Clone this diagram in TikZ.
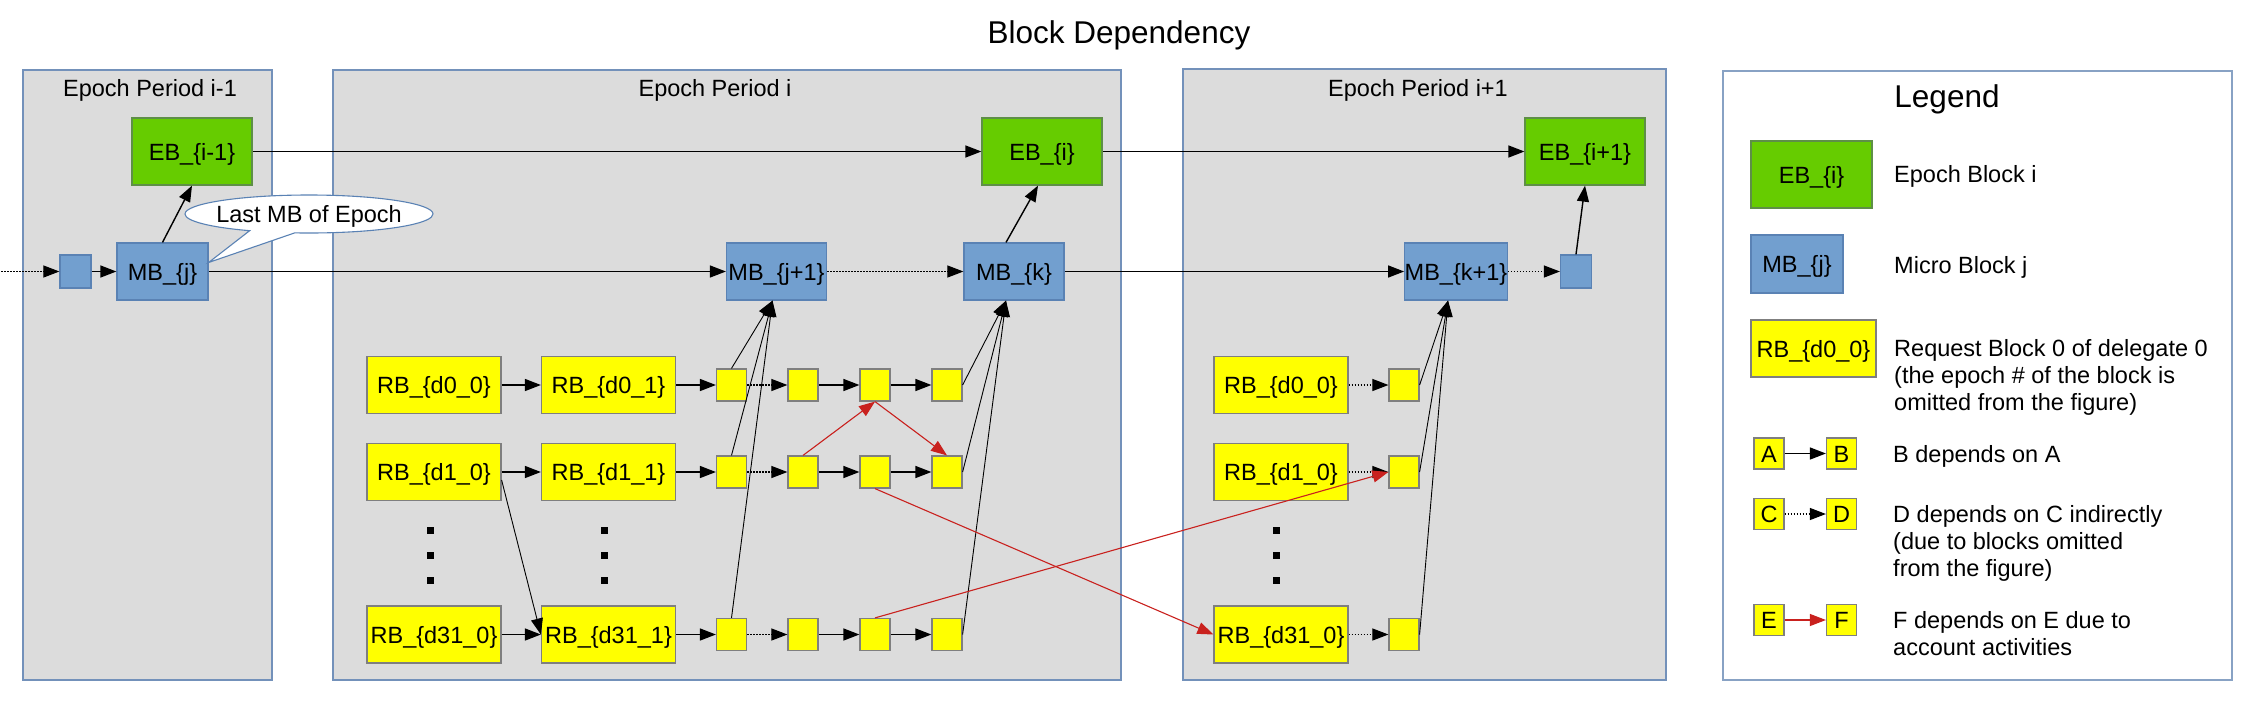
\documentclass[tikz,border=0pt]{standalone}
\usepackage{fontspec}
\setmainfont{Liberation Sans}
\usetikzlibrary{arrows.meta, shapes.callouts, positioning}
\definecolor{bdFrame}{HTML}{7391BA}
\definecolor{bdPeriod}{HTML}{DCDCDC}
\definecolor{bdGreen}{HTML}{66CC00}
\definecolor{bdGreenLine}{HTML}{5E8F47}
\definecolor{bdBlue}{HTML}{729FCF}
\definecolor{bdBlueLine}{HTML}{5A82B4}
\definecolor{bdYellow}{HTML}{FFFF00}
\definecolor{bdGrey}{HTML}{7F7F7F}
\definecolor{bdRed}{HTML}{C9211E}
\tikzset{
  lbl/.style     = {font=\fontsize{23.5}{27}\selectfont, inner sep=0pt},
  ttl/.style     = {font=\fontsize{31.5}{36}\selectfont, inner sep=0pt},
  period/.style  = {draw=bdFrame, fill=bdPeriod, line width=1.3pt},
  legframe/.style= {draw=bdFrame!85, fill=white, line width=1.3pt},
  blk/.style     = {lbl, rectangle, line width=1.2pt, text height=17pt, text depth=0pt},
  ebbox/.style   = {blk, draw=bdGreenLine, fill=bdGreen, minimum width=120pt, minimum height=67pt},
  mbbox/.style   = {blk, draw=bdBlueLine, fill=bdBlue, minimum width=100pt, minimum height=57pt},
  mbsq/.style    = {blk, draw=bdBlueLine, fill=bdBlue, minimum width=31pt, minimum height=33pt},
  rbbox/.style   = {blk, draw=bdGrey, fill=bdYellow, minimum width=134pt, minimum height=57pt},
  rbsq/.style    = {blk, draw=bdGrey, fill=bdYellow, minimum width=30pt, minimum height=32pt},
  dep/.style     = {-{Triangle[length=16pt, width=12pt]}, line width=1.4pt, black},
  depind/.style  = {dep, line width=1.1pt, dash pattern=on 1.5pt off 1.5pt},
  deplink/.style = {dep, line width=0.9pt},
  depacc/.style  = {dep, line width=1.1pt, bdRed},
}

\begin{document}
\begin{tikzpicture}[x=1pt, y=-1pt]
  \useasboundingbox (0,0) rectangle (2256,710);

  \node[ttl, anchor=base] (title) at (1119,43) {Block Dependency};

  % epoch periods
  \draw[period] (23,70) rectangle (272,680);
  \draw[period] (333,70) rectangle (1121,680);
  \draw[period] (1183,69) rectangle (1666,680);
  \node[lbl, anchor=base] (ep0) at (150,96) {Epoch Period i-1};
  \node[lbl, anchor=base] (ep1) at (715,96) {Epoch Period i};
  \node[lbl, anchor=base] (ep2) at (1418,96) {Epoch Period i+1};

  % epoch and micro blocks
  \node[ebbox] (eb0) at (192,151.5)  {EB\_\{i-1\}};
  \node[ebbox] (eb1) at (1042,151.5) {EB\_\{i\}};
  \node[ebbox] (eb2) at (1585,151.5) {EB\_\{i+1\}};

  \node[mbsq] (mbs0) at (75.5,271.5) {};
  \node[mbbox, minimum width=91pt] (mb0) at (162.5,271.5) {MB\_\{j\}};
  \node[mbbox] (mb1) at (776.5,271.5) {MB\_\{j+1\}};
  \node[mbbox] (mb2) at (1014,271.5)  {MB\_\{k\}};
  \node[mbbox] (mb3) at (1456,271.5)  {MB\_\{k+1\}};
  \node[mbsq] (mbs1) at (1576,271.5) {};
  \coordinate (inflow) at (1,271.5);

  % request blocks
  \foreach \r/\y in {0/385, 1/472, 31/634.5} {
    \node[rbbox] (rb\r-0) at (434,\y)   {RB\_\{d\r\_0\}};
    \node[rbbox] (rb\r-1) at (608.5,\y) {RB\_\{d\r\_1\}};
    \foreach \c/\x in {1/731.5, 2/803, 3/875, 4/947}
      \node[rbsq] (sq\r-\c) at (\x,\y) {};
    \node[rbbox] (nrb\r) at (1281,\y) {RB\_\{d\r\_0\}};
    \node[rbsq] (nsq\r) at (1404,\y) {};
  }
  \foreach \x in {430, 604, 1276}
    \foreach \y in {530, 555, 580}
      \fill (\x-3.5,\y-3.5) rectangle ++(7,7);

  % dependencies
  \draw[depind] (inflow) -- (mbs0);
  \draw[dep] (mbs0) -- (mb0);
  \draw[dep] (mb0.north) -- (eb0.south);
  \draw[dep] (eb0) -- (eb1);
  \draw[dep] (eb1) -- (eb2);
  \draw[dep] (mb0) -- (mb1);
  \draw[depind] (mb1) -- (mb2);
  \draw[dep] (mb2) -- (mb3);
  \draw[depind] (mb3) -- (mbs1);
  \draw[dep] ([xshift=-8pt]mb2.north) -- ([xshift=-4pt]eb1.south);
  \draw[dep] (mbs1.north) -- (eb2.south);

  \foreach \r in {0, 1, 31} {
    \draw[dep] (rb\r-0) -- (rb\r-1);
    \draw[dep] (rb\r-1) -- (sq\r-1);
    \draw[depind] (sq\r-1) -- (sq\r-2);
    \draw[dep] (sq\r-2) -- (sq\r-3);
    \draw[dep] (sq\r-3) -- (sq\r-4);
    \draw[deplink] (sq\r-1.north) -- ([xshift=-4pt]mb1.south);
    \draw[deplink] (sq\r-4.east) -- ([xshift=-8pt]mb2.south);
    \draw[depind] (nrb\r) -- (nsq\r);
    \draw[deplink] (nsq\r.east) -- ([xshift=-8pt]mb3.south);
  }
  \draw[deplink] ([yshift=-8pt]rb1-0.east) -- (rb31-1.west);

  % account activities
  \draw[depacc] (sq1-2.north) -- (sq0-3.south);
  \draw[depacc] (sq0-3.south) -- (sq1-4.north);
  \draw[depacc] (sq1-3.south) -- (nrb31.west);
  \draw[depacc] (sq31-3.north) -- (nsq1.west);

  \node[lbl, ellipse callout, draw=bdBlueLine, fill=white, line width=1.1pt,
        minimum width=248pt, minimum height=38pt, inner xsep=-8pt,
        text height=17pt, text depth=0pt, callout pointer arc=22,
        callout absolute pointer={([yshift=9pt]mb0.east)}]
    (lastmb) at (309,214) {Last MB of Epoch};

  % legend
  \draw[legframe] (1723,71) rectangle (2232,680);
  \node[ttl, anchor=base] (legend) at (1947,107) {Legend};
  \node[ebbox, minimum width=121pt] (lgEB) at (1811.5,174.5) {EB\_\{i\}};
  \node[lbl, anchor=base west] at (1894,182.5) {Epoch Block i};
  \node[mbbox, minimum width=92pt, minimum height=58pt] (lgMB) at (1797,264) {MB\_\{j\}};
  \node[lbl, anchor=base west] at (1894,273.5) {Micro Block j};
  \node[rbbox, minimum width=125pt] (lgRB) at (1813.5,348.5) {RB\_\{d0\_0\}};
  \node[lbl, anchor=base west, align=left] at (1894,410.5)
    {Request Block 0 of delegate 0\\(the epoch \# of the block is\\omitted from the figure)};

  \node[rbsq, minimum height=31pt] (lgA) at (1769,453.5)   {A};
  \node[rbsq, minimum height=31pt] (lgB) at (1841.5,453.5) {B};
  \node[rbsq, minimum height=31pt] (lgC) at (1769,514)     {C};
  \node[rbsq, minimum height=31pt] (lgD) at (1841.5,514)   {D};
  \node[rbsq, minimum height=31pt] (lgE) at (1769,620)     {E};
  \node[rbsq, minimum height=31pt] (lgF) at (1841.5,620)   {F};
  \draw[dep] (lgA) -- (lgB);
  \draw[depind] (lgC) -- (lgD);
  \draw[depacc] (lgE) -- (lgF);
  \node[lbl, anchor=base west] at (1893,462.5) {B depends on A};
  \node[lbl, anchor=base west, align=left] at (1893,576.5)
    {D depends on C indirectly\\(due to blocks omitted\\from the figure)};
  \node[lbl, anchor=base west, align=left] at (1893,655.5)
    {F depends on E due to\\account activities};
\end{tikzpicture}
\end{document}
